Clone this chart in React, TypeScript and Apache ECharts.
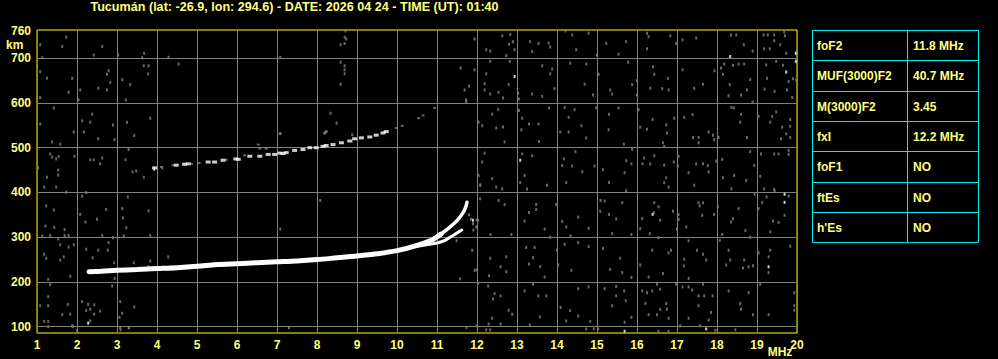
import React, { useEffect, useRef } from "react";
import * as echarts from "echarts";

// ---------- data ----------
const titleText = "Tucumán (lat: -26.9, lon: 294.6) - DATE: 2026 04 24 - TIME (UT): 01:40";
const freqTicks = [1, 2, 3, 4, 5, 6, 7, 8, 9, 10, 11, 12, 13, 14, 15, 16, 17, 18, 19, 20];
const heightGrid = [100, 200, 300, 400, 500, 600, 700];
const heightLabels = [100, 200, 300, 400, 500, 600, 700, 760];

const tableLabels = ["foF2", "MUF(3000)F2", "M(3000)F2", "fxI", "foF1", "ftEs", "h'Es"];
const tableValues = ["11.8 MHz", "40.7 MHz", "3.45", "12.2 MHz", "NO", "NO", "NO"];

// main F2 trace (freq MHz, virtual height km)
const traceF2 = [
  [2.3, 223], [2.6, 224], [3.0, 226], [3.5, 228], [4.0, 230], [4.5, 232], [5.0, 235],
  [5.5, 239], [6.0, 241], [6.5, 243], [7.0, 245], [7.5, 247], [8.0, 250], [8.5, 254],
  [9.0, 258], [9.5, 263], [10.0, 270], [10.5, 282], [10.9, 295], [11.1, 307],
];
// upper part of the cusp (thinner)
const traceF2Cusp = [
  [10.9, 295], [11.1, 307], [11.33, 323], [11.53, 340], [11.65, 355], [11.72, 368], [11.75, 378],
];
// second (lower) branch near the cusp
const traceF2b = [
  [10.5, 280], [10.8, 284], [11.0, 287], [11.2, 293], [11.4, 304], [11.62, 316],
];
// second hop echoes
const hop2White = [
  [3.94, 455], [4.48, 461], [4.69, 463], [4.78, 464], [5.28, 468], [5.44, 468], [5.65, 472],
  [5.97, 475], [6.03, 474], [6.32, 481], [6.57, 481], [6.78, 485], [6.94, 485], [7.07, 488],
  [7.15, 487], [7.23, 489], [7.44, 494], [7.65, 496], [7.82, 500], [7.98, 500], [8.15, 503],
  [8.23, 505], [8.4, 507], [8.61, 511], [8.82, 515], [8.94, 520], [9.11, 522], [9.32, 524],
  [9.48, 528], [9.65, 533], [9.73, 536],
];
const hop2Gray = [
  [4.11, 457], [4.4, 461], [4.86, 464], [5.05, 466], [5.73, 473], [6.19, 483], [6.57, 498],
  [6.73, 498], [7.08, 531], [6.53, 507], [8.19, 533], [8.23, 536], [9.98, 544], [10.13, 549],
  [10.54, 566], [10.65, 572], [10.94, 589],
];

// background speckle
const noiseLeft = [
  [1.08, 730], [1.73, 747], [1.63, 726], [1.13, 701], [2.42, 707], [2.63, 726], [3.03, 707],
  [3.63, 701], [3.68, 711], [1.08, 670], [1.25, 655], [1.88, 655], [2.79, 672], [2.75, 664],
  [2.83, 646], [2.53, 633], [2.75, 629], [2.08, 629], [1.79, 624], [2.04, 607], [1.08, 612],
  [3.13, 652], [3.33, 641], [3.22, 607], [3.67, 683], [3.79, 683], [3.78, 665], [1.42, 589],
  [1.08, 553], [1.92, 535], [2.13, 560], [2.33, 557], [2.17, 535], [2.38, 575], [2.53, 520],
  [2.9, 551], [2.94, 518], [3.25, 557], [3.43, 527], [3.83, 566], [1.38, 513], [1.58, 508],
  [1.33, 486], [1.38, 479], [1.48, 475], [1.54, 480], [1.03, 455], [1.53, 450], [1.53, 439],
  [1.25, 434], [1.94, 481], [2.33, 473], [2.42, 473], [2.63, 477], [2.58, 464], [3.21, 473],
  [3.29, 496], [3.39, 446], [3.48, 448], [3.67, 434], [4.13, 455], [1.18, 412], [1.48, 412],
  [1.73, 401], [2.13, 392], [2.23, 400], [1.23, 370], [1.42, 361], [1.21, 325], [1.43, 322],
  [1.13, 303], [1.33, 304], [1.53, 296], [1.69, 317], [1.69, 304], [1.79, 304], [2.08, 351],
  [2.21, 334], [2.5, 340], [2.63, 304], [2.73, 362], [2.9, 299], [3.13, 364], [3.15, 343],
  [3.23, 321], [3.27, 390], [3.17, 303], [3.83, 304], [3.79, 359], [1.58, 283], [1.79, 278],
  [1.92, 283], [1.18, 262], [1.23, 253], [1.58, 249], [1.67, 256], [1.83, 213], [1.28, 206],
  [2.23, 273], [2.39, 254], [2.53, 271], [2.79, 288], [2.77, 271], [2.93, 243], [2.94, 208],
  [2.88, 191], [3.42, 243], [3.83, 247], [3.79, 234], [1.33, 194], [1.28, 167], [1.28, 147],
  [1.08, 147], [1.63, 127], [1.83, 128], [1.77, 150], [1.18, 112], [1.28, 112], [1.28, 100],
  [1.88, 102], [2.13, 156], [2.28, 150], [2.23, 136], [2.33, 139], [2.43, 149], [2.43, 128],
  [2.58, 135], [2.33, 113], [3.08, 156], [3.13, 130], [3.06, 121], [3.08, 98], [3.43, 144],
  [3.29, 98], [1.89, 100], [2.0, 91], [3.09, 93], [3.3, 98],
];
const noiseMiddle = [
  [4.29, 702], [4.54, 687], [7.08, 702], [8.71, 761], [8.69, 747], [8.73, 743], [8.69, 733],
  [8.59, 730], [8.59, 691], [8.69, 683], [8.69, 674], [8.69, 665], [8.59, 642], [11.59, 678],
  [11.8, 638], [11.69, 629], [11.73, 607], [11.73, 603], [8.34, 577], [8.49, 555], [8.23, 536],
  [8.19, 532], [7.08, 532], [8.88, 529], [4.28, 256], [7.08, 318], [8.08, 382], [11.91, 316],
  [11.99, 339], [11.99, 227], [11.58, 207], [11.49, 292], [11.8, 350], [11.85, 340],
  [11.9, 330], [7.3, 98], [11.74, 98], [11.99, 102],
];
const noiseRightA = [
  [12.63, 750], [12.83, 753], [12.9, 737], [12.8, 731], [12.23, 719], [12.33, 716], [12.73, 706],
  [12.94, 719], [13.33, 737], [13.54, 733], [13.79, 734], [13.38, 715], [13.83, 725], [14.21, 761],
  [14.38, 752], [14.48, 719], [14.79, 756], [15.23, 733], [15.54, 709], [15.73, 737], [15.0, 707],
  [11.94, 743], [11.94, 674], [12.33, 693], [12.82, 693], [12.23, 665], [12.19, 643], [12.19, 629],
  [12.33, 620], [12.54, 624], [12.79, 641], [12.65, 611], [13.03, 622], [13.05, 609], [13.38, 620],
  [13.63, 683], [13.88, 676], [13.83, 665], [13.63, 615], [13.94, 632], [14.33, 689], [14.73, 687],
  [14.69, 642], [15.04, 664], [14.9, 618], [15.33, 629], [15.38, 620], [15.78, 691], [15.88, 641],
  [12.04, 557], [12.13, 549], [12.38, 575], [12.53, 585], [12.48, 544], [12.65, 546], [12.69, 513],
  [13.05, 583], [13.13, 566], [13.3, 553], [13.54, 553], [13.11, 540], [13.55, 514], [13.8, 589],
  [14.19, 590], [14.29, 568], [14.44, 585], [14.29, 535], [14.08, 535], [14.61, 549], [14.73, 522],
  [14.98, 589], [15.3, 575], [15.29, 540], [15.54, 589], [15.67, 508], [12.19, 488], [12.13, 468],
  [12.04, 438], [12.38, 431], [12.08, 416], [12.48, 412], [12.63, 408], [13.13, 486], [13.38, 482],
  [13.19, 438], [13.08, 422], [13.25, 408], [13.75, 416], [14.17, 475], [14.13, 460], [14.38, 459],
  [14.46, 491], [14.63, 446], [14.23, 422], [14.94, 459], [15.15, 451], [15.3, 422], [15.73, 471],
  [15.69, 444], [15.86, 464], [15.73, 404], [15.88, 496],
];
const noiseRightB = [
  [12.08, 386], [12.54, 382], [12.69, 373], [12.03, 338], [11.98, 323], [12.34, 306], [12.86, 306],
  [13.19, 336], [13.3, 355], [13.48, 373], [13.48, 362], [13.69, 318], [13.83, 300], [13.98, 373],
  [14.13, 335], [14.23, 323], [14.53, 345], [14.34, 303], [14.79, 320], [15.09, 382], [15.19, 381],
  [15.08, 358], [15.3, 351], [15.48, 341], [15.63, 377], [15.38, 308], [15.86, 306], [11.88, 271],
  [11.94, 226], [12.3, 214], [12.33, 253], [12.59, 234], [12.73, 223], [12.73, 256], [13.23, 277],
  [13.44, 277], [13.4, 254], [13.3, 240], [13.58, 234], [13.69, 211], [14.0, 271], [14.03, 238],
  [14.19, 284], [14.36, 226], [14.53, 288], [14.79, 279], [15.15, 275], [15.33, 228], [15.58, 253],
  [15.63, 221], [15.86, 210], [12.03, 197], [12.28, 191], [12.44, 174], [12.59, 169], [12.4, 162],
  [12.79, 137], [12.88, 128], [12.38, 119], [12.29, 106], [12.59, 106], [13.19, 180], [13.4, 195],
  [13.53, 169], [13.73, 169], [13.57, 122], [13.32, 104], [14.09, 143], [14.33, 136], [14.53, 124],
  [14.23, 113], [14.53, 185], [14.79, 189], [14.83, 112], [15.19, 185], [15.48, 190], [15.48, 169],
  [15.38, 147], [15.68, 180], [15.72, 158], [15.69, 110], [15.86, 121], [12.23, 93], [12.33, 93],
  [14.73, 95], [14.92, 95], [15.03, 95], [12.08, 417],
];
const noiseRightC = [
  [16.25, 756], [16.29, 748], [16.83, 750], [17.14, 741], [17.48, 745], [16.98, 733], [16.25, 721],
  [18.35, 752], [18.48, 752], [18.67, 730], [18.89, 716], [19.17, 752], [19.27, 752], [19.43, 752],
  [19.68, 759], [19.7, 750], [19.43, 739], [19.58, 730], [19.18, 721], [19.32, 721], [19.73, 711],
  [16.4, 681], [16.43, 664], [16.77, 655], [16.33, 633], [16.63, 632], [16.79, 629], [16.0, 650],
  [16.0, 618], [17.14, 674], [17.43, 633], [17.65, 642], [17.94, 672], [18.18, 687], [18.1, 678],
  [18.15, 664], [18.4, 684], [18.54, 687], [18.68, 687], [18.32, 641], [18.83, 652], [18.75, 629],
  [18.29, 616], [18.6, 618], [18.89, 602], [19.23, 685], [19.48, 693], [19.65, 684], [19.79, 648],
  [19.9, 654], [19.98, 651], [19.75, 629], [19.25, 655], [19.19, 631], [19.44, 626], [19.88, 612],
  [16.04, 585], [16.08, 546], [16.25, 541], [16.39, 563], [16.73, 551], [16.75, 533], [16.65, 511],
  [16.68, 503], [16.93, 566], [17.18, 568], [17.39, 574], [17.4, 523], [17.54, 523], [17.54, 511],
  [17.79, 535], [17.9, 528], [17.93, 518], [18.04, 523], [18.36, 590], [18.42, 589], [18.6, 575],
  [18.58, 557], [18.75, 523], [19.04, 570], [19.38, 570], [19.33, 557], [19.48, 580], [19.63, 546],
  [19.83, 563], [19.73, 531], [19.83, 548], [19.6, 520], [19.83, 523], [16.18, 477], [16.33, 464],
  [16.43, 482], [16.14, 464], [16.68, 461], [16.73, 433], [16.68, 422], [16.79, 412], [16.92, 468],
  [17.02, 459], [17.04, 481], [17.29, 444], [17.48, 464], [17.65, 464], [17.77, 460], [17.43, 416],
  [17.79, 446], [17.98, 470], [18.13, 474], [18.15, 433], [18.43, 438], [18.36, 408], [18.83, 491],
  [18.93, 460], [19.1, 486], [19.43, 486], [19.54, 486], [19.79, 494], [19.79, 485], [19.08, 436],
  [19.43, 407], [19.18, 408], [18.73, 427],
];
const noiseRightD = [
  [16.43, 377], [16.54, 368], [16.42, 355], [16.13, 342], [16.58, 338], [16.08, 319], [16.32, 308],
  [16.54, 299], [16.9, 358], [17.04, 351], [17.04, 340], [17.0, 318], [17.23, 323], [17.54, 377],
  [17.65, 377], [17.57, 370], [17.63, 349], [17.93, 351], [18.02, 368], [18.35, 334], [18.4, 341],
  [18.54, 364], [18.71, 315], [18.83, 300], [18.13, 306], [18.94, 396], [19.04, 364], [19.13, 378],
  [19.24, 390], [19.44, 403], [19.79, 392], [19.69, 349], [19.4, 336], [19.54, 333], [19.33, 312],
  [16.38, 271], [16.08, 238], [16.29, 211], [16.65, 219], [16.85, 271], [16.79, 265], [17.18, 251],
  [17.29, 292], [17.17, 236], [17.5, 271], [17.65, 262], [17.73, 249], [17.29, 208], [18.07, 293],
  [18.29, 271], [18.23, 238], [18.33, 249], [18.65, 231], [18.79, 234], [18.9, 236], [18.68, 249],
  [19.04, 265], [19.33, 271], [19.29, 256], [19.29, 221], [19.83, 280], [16.13, 180], [16.25, 176],
  [16.38, 180], [16.58, 184], [16.5, 195], [16.21, 152], [16.73, 152], [16.58, 139], [16.75, 139],
  [16.29, 127], [16.5, 127], [16.79, 119], [16.98, 195], [17.14, 189], [17.29, 189], [17.38, 182],
  [17.54, 169], [17.68, 169], [17.89, 169], [17.65, 195], [17.54, 147], [17.85, 132], [17.29, 119],
  [17.79, 115], [17.58, 102], [17.08, 102], [18.29, 180], [18.58, 152], [18.79, 176], [18.9, 127],
  [18.6, 139], [19.08, 195], [19.29, 127], [19.93, 176], [19.93, 147], [19.93, 137], [16.54, 90],
  [16.79, 90], [17.96, 92], [18.46, 93],
];
const noiseWhite = [
  [12.94, 659], [13.08, 472], [11.9, 338], [15.69, 90], [18.33, 704], [19.97, 711], [19.97, 693],
  [19.73, 669], [16.39, 351], [19.69, 396], [19.69, 378], [19.29, 234], [17.73, 95], [3.93, 452],
  [2.28, 108], [11.74, 376],
];

// ---------- styling ----------
const BG = "#000000";
const YELLOW = "#ffff00";
const TEXT = "#ffff80";
const GRID = "#808080";
const CYAN = "#00f0f0";
const FONT = "'Liberation Sans', Arial, sans-serif";

export default function App() {
  const ref = useRef<HTMLDivElement>(null);

  useEffect(() => {
    if (!ref.current) return;
    const chart = echarts.init(ref.current, null, { renderer: "svg" });

    const tLeft = 812, tRight = 978, tDiv = 907, tTop = 30, rowH = 30.3;
    const tableGraphics: any[] = [];
    tableGraphics.push({
      type: "rect",
      shape: { x: tLeft + 0.5, y: tTop + 0.5, width: tRight - tLeft, height: rowH * tableLabels.length },
      style: { fill: "none", stroke: CYAN, lineWidth: 1 },
    });
    tableGraphics.push({
      type: "line",
      shape: { x1: tDiv + 0.5, y1: tTop, x2: tDiv + 0.5, y2: tTop + rowH * tableLabels.length },
      style: { stroke: CYAN, lineWidth: 1 },
    });
    tableLabels.forEach((lab, i) => {
      if (i > 0) {
        const y = Math.round(tTop + rowH * i) + 0.5;
        tableGraphics.push({
          type: "line",
          shape: { x1: tLeft, y1: y, x2: tRight, y2: y },
          style: { stroke: CYAN, lineWidth: 1 },
        });
      }
      const cy = tTop + rowH * i + rowH / 2 + 1;
      tableGraphics.push({
        type: "text",
        x: tLeft + 5, y: cy,
        style: { text: lab, fill: TEXT, font: `bold 12px ${FONT}`, textVerticalAlign: "middle" },
      });
      tableGraphics.push({
        type: "text",
        x: tDiv + 6, y: cy,
        style: { text: tableValues[i], fill: TEXT, font: `bold 12px ${FONT}`, textVerticalAlign: "middle" },
      });
    });

    const scatter = (data: number[][], color: string, size: number[], z = 2) => ({
      type: "scatter",
      data,
      symbol: "rect",
      symbolSize: size,
      itemStyle: { color },
      silent: true,
      z,
    });

    chart.setOption({
      animation: false,
      backgroundColor: BG,
      grid: {
        left: 37, top: 30, width: 760, height: 303,
        show: true, borderColor: YELLOW, borderWidth: 1, backgroundColor: "transparent",
      },
      xAxis: {
        type: "value", min: 1, max: 20, interval: 1,
        axisLine: { show: false }, axisTick: { show: false },
        splitLine: { show: true, lineStyle: { color: GRID, width: 1 } },
        axisLabel: {
          color: TEXT, fontWeight: "bold", fontSize: 12, fontFamily: FONT, margin: 6,
          formatter: (v: number) => (freqTicks.includes(v) ? String(v) : ""),
        },
      },
      yAxis: {
        type: "value", min: 86, max: 763,
        axisLine: { show: false },
        axisTick: { show: false, customValues: heightGrid },
        splitLine: { show: true, lineStyle: { color: GRID, width: 1 } },
        axisLabel: {
          customValues: heightLabels,
          color: TEXT, fontWeight: "bold", fontSize: 12, fontFamily: FONT, margin: 6,
        },
      },
      graphic: [
        {
          type: "text", x: 294.5, y: 7,
          style: { text: titleText, fill: TEXT, font: `bold 12.6px ${FONT}`, textAlign: "center", textVerticalAlign: "middle" },
        },
        {
          type: "text", x: 6, y: 45,
          style: { text: "km", fill: TEXT, font: `bold 12px ${FONT}`, textVerticalAlign: "middle" },
        },
        {
          type: "text", x: 780, y: 352,
          style: { text: "MHz", fill: TEXT, font: `bold 12px ${FONT}`, textAlign: "center", textVerticalAlign: "middle" },
        },
        ...tableGraphics,
      ],
      series: [
        scatter([...noiseLeft, ...noiseMiddle, ...noiseRightA, ...noiseRightB, ...noiseRightC, ...noiseRightD], GRID, [2, 3], 2),
        scatter(noiseWhite, "#ffffff", [2, 3], 3),
        scatter(hop2Gray, GRID, [3, 2], 3),
        scatter(hop2White, "#ffffff", [5, 3], 4),
        {
          type: "line", data: traceF2, symbol: "none", smooth: 0.3, silent: true, z: 5,
          lineStyle: { color: "#ffffff", width: 5, cap: "round" },
        },
        {
          type: "line", data: traceF2Cusp, symbol: "none", smooth: 0.3, silent: true, z: 5,
          lineStyle: { color: "#ffffff", width: 3.5, cap: "round" },
        },
        {
          type: "line", data: traceF2b, symbol: "none", smooth: 0.3, silent: true, z: 5,
          lineStyle: { color: "#ffffff", width: 3, cap: "round" },
        },
      ],
    });

    return () => chart.dispose();
  }, []);

  return (
    <div
      ref={ref}
      style={{ position: "fixed", left: 0, top: 0, width: 998, height: 359, background: BG }}
    />
  );
}
